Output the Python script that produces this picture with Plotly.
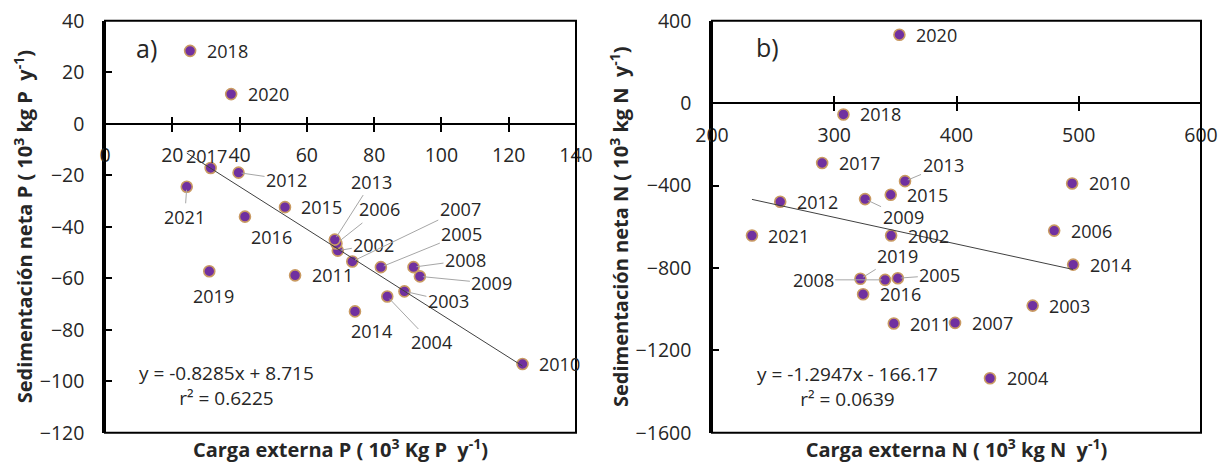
import plotly.graph_objects as go

# ---------------- data ----------------
years = [2002, 2003, 2004, 2005, 2006, 2007, 2008, 2009, 2010, 2011,
         2012, 2013, 2014, 2015, 2016, 2017, 2018, 2019, 2020, 2021]

# Panel a) phosphorus
p_load = [69.2, 89.0, 83.9, 82.0, 68.8, 73.5, 91.7, 93.6, 124.1, 56.5,
          39.7, 68.3, 74.3, 53.5, 41.6, 31.4, 25.3, 31.0, 37.5, 24.3]
p_sed = [-49.3, -65.1, -67.1, -55.7, -46.5, -53.5, -55.7, -59.3, -93.3, -58.9,
         -19.0, -45.0, -72.9, -32.4, -36.1, -17.2, 28.3, -57.3, 11.5, -24.5]
p_slope, p_intercept, p_r2 = -0.8285, 8.715, 0.6225

# Panel b) nitrogen
n_load = [346.5, 462.3, 427.4, 352.0, 479.9, 398.8, 341.6, 325.2, 494.6, 348.7,
          255.8, 357.9, 495.4, 346.2, 323.6, 290.1, 307.5, 321.4, 353.3, 232.7]
n_sed = [-643, -983, -1336, -850, -619, -1067, -858, -466, -390, -1070,
         -479, -379, -784, -445, -928, -291, -55, -853, 332, -643]
n_slope, n_intercept, n_r2 = -1.2947, -166.17, 0.0639

# ---------------- styles ----------------
W, H = 1228, 466
FONT = "Open Sans"
TXT = "#262626"
MARK = dict(size=11, color="#7030A0", line=dict(color="#C99A62", width=1.6))

# label offsets in pixels (dx, dy, leader line)
RIGHT = (37, 0, False)
off_a = {2002: (36, -6, True), 2003: (44, 10, True), 2004: (44, 46, True),
         2005: (81, -33, True), 2006: (43, -34, True), 2007: (108, -52, True),
         2008: (52, -7, True), 2009: (72, 7, True), 2012: (48, 7, True),
         2013: (37, -58, True), 2014: (17, 20, False), 2016: (27, 20, False),
         2017: (-4, -12, False), 2019: (4, 25, False), 2021: (-2, 30, True)}
off_b = {2005: (42, -3, True), 2008: (-72, 0, True), 2009: (38, 18, True),
         2013: (38, -16, True), 2019: (37, -23, True)}

dom_a = [105 / W, 576 / W]
dom_b = [712 / W, 1201 / W]
dom_y = [1 - 432.7 / H, 1 - 20.7 / H]
rng_ax, rng_ay = [0, 140], [-120, 40]
rng_bx, rng_by = [200, 600], [-1600, 400]


def zero_pos(r):
    return dom_y[0] + (0 - r[0]) / (r[1] - r[0]) * (dom_y[1] - dom_y[0])


fig = go.Figure()

# scatter points
fig.add_trace(go.Scatter(x=p_load, y=p_sed, mode="markers", marker=MARK,
                         xaxis="x", yaxis="y", showlegend=False))
fig.add_trace(go.Scatter(x=n_load, y=n_sed, mode="markers", marker=MARK,
                         xaxis="x2", yaxis="y2", showlegend=False))

# trend lines (from fitted coefficients over the data range)
xa_line = [min(p_load), max(p_load)]
xb_line = [min(n_load), max(n_load)]
fig.add_trace(go.Scatter(x=xa_line, y=[p_slope * v + p_intercept for v in xa_line],
                         mode="lines", line=dict(color="#404040", width=1),
                         xaxis="x", yaxis="y", showlegend=False))
fig.add_trace(go.Scatter(x=xb_line, y=[n_slope * v + n_intercept for v in xb_line],
                         mode="lines", line=dict(color="#404040", width=1),
                         xaxis="x2", yaxis="y2", showlegend=False))

# empty traces so the helper axes (cross ticks, bottom titles) get drawn
for xr, yr in [("x3", "y"), ("x5", "y"), ("x4", "y2"), ("x6", "y2")]:
    fig.add_trace(go.Scatter(x=[], y=[], mode="markers", xaxis=xr, yaxis=yr,
                             showlegend=False, hoverinfo="skip"))

annotations = []


def add_labels(xs, ys, offs, xr, yr):
    for yr_, xv, yv in zip(years, xs, ys):
        dx, dy, lead = offs.get(yr_, RIGHT)
        a = dict(x=xv, y=yv, xref=xr, yref=yr, text=str(yr_),
                 xanchor="center", yanchor="middle",
                 font=dict(family=FONT, size=18, color=TXT))
        if lead:
            a.update(showarrow=True, ax=dx, ay=dy, arrowhead=0, arrowwidth=1,
                     arrowcolor="#A6A6A6", standoff=3)
        else:
            a.update(showarrow=False, xshift=dx, yshift=-dy)
        annotations.append(a)


add_labels(p_load, p_sed, off_a, "x", "y")
add_labels(n_load, n_sed, off_b, "x2", "y2")

eqfont = dict(family=FONT, size=19, color=TXT)
# equations
annotations.append(dict(x=226 / W, y=1 - 385 / H, xref="paper", yref="paper",
                         xanchor="center", yanchor="middle",
                         text=f"y = {p_slope}x + {p_intercept}<br>r² = {p_r2}",
                         showarrow=False, align="center", font=eqfont))
annotations.append(dict(x=847 / W, y=1 - 386 / H, xref="paper", yref="paper",
                         xanchor="center", yanchor="middle",
                         text=f"y = {n_slope}x - {abs(n_intercept)}<br>r² = {n_r2}",
                         showarrow=False, align="center", font=eqfont))
# panel letters
annotations.append(dict(x=146 / W, y=1 - 48 / H, xref="paper", yref="paper", text="a)",
                         xanchor="center", yanchor="middle",
                         showarrow=False, font=dict(family=FONT, size=25, color=TXT)))
annotations.append(dict(x=767 / W, y=1 - 47 / H, xref="paper", yref="paper", text="b)",
                         xanchor="center", yanchor="middle",
                         showarrow=False, font=dict(family=FONT, size=25, color=TXT)))

tickfont = dict(family=FONT, size=19.5, color=TXT)
titlefont = dict(family=FONT, size=20, color=TXT)


def main_x(dom, rng, dt, pos):
    return dict(domain=dom, range=rng, dtick=dt, anchor="free", position=pos,
                ticks="outside", ticklen=7, tickwidth=2, tickcolor="black",
                showline=True, linewidth=2, linecolor="black", showgrid=False,
                zeroline=False, tickfont=tickfont, ticklabelstandoff=7,
                automargin=False)


def cross_x(base, rng, dt, pos):
    return dict(overlaying=base, range=rng, dtick=dt, anchor="free", position=pos,
                ticks="inside", ticklen=7, tickwidth=2, tickcolor="black",
                showticklabels=False, showline=False, showgrid=False,
                zeroline=False, automargin=False)


def title_x(base, rng, anchor, text):
    return dict(overlaying=base, range=rng, anchor=anchor, side="bottom",
                showticklabels=False, ticks="", showline=False, showgrid=False,
                zeroline=False, automargin=False,
                title=dict(text=text, font=titlefont, standoff=10))


def main_y(rng, dt, anchor, text):
    return dict(domain=dom_y, range=rng, dtick=dt, anchor=anchor,
                ticks="inside", ticklen=7, tickwidth=2, tickcolor="black",
                showline=True, linewidth=2.5, linecolor="black", showgrid=False,
                zeroline=False, tickfont=tickfont, ticklabelstandoff=14,
                automargin=False,
                title=dict(text=text, font=titlefont, standoff=2))


fig.update_layout(
    width=W, height=H, margin=dict(l=0, r=0, t=0, b=0),
    paper_bgcolor="white", plot_bgcolor="white",
    xaxis=main_x(dom_a, rng_ax, 20, zero_pos(rng_ay)),
    xaxis2=main_x(dom_b, rng_bx, 100, zero_pos(rng_by)),
    xaxis3=cross_x("x", rng_ax, 20, zero_pos(rng_ay)),
    xaxis4=cross_x("x2", rng_bx, 100, zero_pos(rng_by)),
    xaxis5=title_x("x", rng_ax, "y", "<b>Carga externa P ( 10<sup>3</sup> Kg P  y<sup>-1</sup>)</b>"),
    xaxis6=title_x("x2", rng_bx, "y2", "<b>Carga externa N ( 10<sup>3</sup> kg N  y<sup>-1</sup>)</b>"),
    yaxis=main_y(rng_ay, 20, "x", "<b>Sedimentación neta P ( 10<sup>3</sup> kg P  y<sup>-1</sup>)</b>"),
    yaxis2=main_y(rng_by, 400, "x2", "<b>Sedimentación neta N ( 10<sup>3</sup> kg N  y<sup>-1</sup>)</b>"),
    annotations=annotations,
    shapes=[
        dict(type="rect", xref="x domain", yref="y domain", x0=0, x1=1, y0=0, y1=1,
             line=dict(color="black", width=2), layer="above"),
        dict(type="rect", xref="x2 domain", yref="y2 domain", x0=0, x1=1, y0=0, y1=1,
             line=dict(color="black", width=2), layer="above"),
    ],
    font=dict(family=FONT, color=TXT),
)

fig.write_html("out.html")
